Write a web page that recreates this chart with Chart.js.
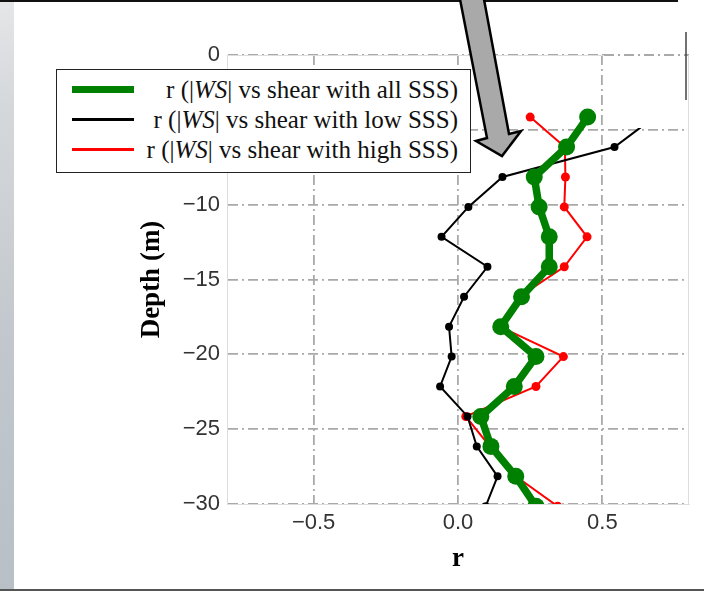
<!DOCTYPE html>
<html>
<head>
<meta charset="utf-8">
<title>r vs depth</title>
<script src="https://cdn.jsdelivr.net/npm/chart.js@4.4.1/dist/chart.umd.min.js"></script>
<style>
  html, body { margin: 0; padding: 0; background: #fff; }
  #wrap { position: relative; width: 704px; height: 591px; overflow: hidden; background: #fff; }
  #strip { position: absolute; left: 0; top: 0; width: 14px; height: 591px;
    background: linear-gradient(to bottom, #e4e6e8 0%, #d5d8db 18%, #cbcfd3 40%, #c1c7cd 58%, #b8bfc7 100%); }
  #topline { position: absolute; left: 0; top: 0; width: 678px; height: 2px; background: #111; }
  #bottomline { position: absolute; left: 0; top: 589px; width: 704px; height: 2px; background: #555; }
  #chart { position: absolute; left: 0; top: 0; }
  #legend { position: absolute; left: 56px; top: 69px; width: 415px; height: 104px; box-sizing: border-box;
    border: 1.5px solid #222; background: #fff; font-family: "Liberation Serif", serif; font-size: 25px; color: #111; }
  .row { position: absolute; left: 0; width: 100%; height: 30px; }
  .swatch { position: absolute; left: 15px; width: 62px; }
  .label { position: absolute; right: 12px; top: 0; line-height: 30px; white-space: nowrap; }
  #arrow { position: absolute; left: 0; top: 0; }
</style>
</head>
<body>
<div id="wrap">
  <div id="strip"></div>
  <div id="topline"></div>
  <div id="bottomline"></div>
  <canvas id="chart" width="704" height="591"></canvas>
  <div id="legend"></div>
  <svg id="arrow" width="704" height="591">
    <polygon points="459,-6 483,-6 509,134 521,131 502,156 476,141 487,138" fill="#a9a9a9" stroke="#000" stroke-width="2.5" stroke-linejoin="miter"/>
  </svg>
</div>
<script>
// 深度 (m) 和相关系数
const depth = [-4.15, -6.15, -8.15, -10.15, -12.15, -14.15, -16.15, -18.15, -20.15, -22.15, -24.15, -26.15, -28.15, -30.15];
const rAll  = [0.449, 0.376, 0.264, 0.281, 0.316, 0.316, 0.220, 0.148, 0.270, 0.195, 0.079, 0.114, 0.200, 0.270];
const rLow  = [0.680, 0.542, 0.154, 0.036, -0.057, 0.102, 0.021, -0.031, -0.022, -0.062, 0.033, 0.065, 0.137, 0.096];
const rHigh = [0.250, 0.370, 0.372, 0.368, 0.447, 0.368, 0.213, 0.145, 0.365, 0.270, 0.027, 0.110, 0.200, 0.345];
const seriesTags = ['all SSS', 'low SSS', 'high SSS'];
const xTicks = [-0.5, 0, 0.5];
const yTicks = [0, -5, -10, -15, -20, -25, -30];

const colors = ['#008000', '#000000', '#ff0000'];
const gridDash = [10, 4, 2, 4];
const tickFont = { family: 'Liberation Sans', size: 22 };
const titleFont = { family: 'Liberation Serif', size: 27, weight: 'bold' };

const minus = s => String(s).replace('-', '\u2212');
const toPoints = rs => rs.map((r, i) => ({ x: r, y: depth[i] }));

// 图例 (HTML)
const legend = document.getElementById('legend');
const swatchH = [7, 3, 3];
seriesTags.forEach((tag, i) => {
  const row = document.createElement('div');
  row.className = 'row';
  row.style.top = (4.5 + i * 30) + 'px';
  const sw = document.createElement('div');
  sw.className = 'swatch';
  sw.style.height = swatchH[i] + 'px';
  sw.style.top = (15 - swatchH[i] / 2) + 'px';
  sw.style.background = colors[i];
  const lab = document.createElement('div');
  lab.className = 'label';
  lab.innerHTML = 'r (|<i>WS</i>| vs shear with ' + tag + ')';
  row.appendChild(sw);
  row.appendChild(lab);
  legend.appendChild(row);
});

// 边框和右上角白块
const overlay = {
  id: 'overlay',
  beforeDatasetsDraw(chart) {
    const { ctx, chartArea: a } = chart;
    ctx.save();
    ctx.strokeStyle = '#dddddd';
    ctx.lineWidth = 1;
    ctx.beginPath();
    ctx.moveTo(a.left, a.top + 0.5);
    ctx.lineTo(a.right - 0.5, a.top + 0.5);
    ctx.lineTo(a.right - 0.5, a.bottom);
    ctx.stroke();
    ctx.restore();
  },
  afterDatasetsDraw(chart) {
    const { ctx, chartArea: a, scales } = chart;
    ctx.save();
    ctx.fillStyle = '#fff';
    ctx.fillRect(604, 30, 100, 98);
    const y0 = scales.y.getPixelForValue(0);
    ctx.strokeStyle = '#a9a9a9';
    ctx.lineWidth = 1.8;
    ctx.setLineDash(gridDash);
    ctx.beginPath();
    ctx.moveTo(604, y0);
    ctx.lineTo(a.right, y0);
    ctx.stroke();
    ctx.setLineDash([]);
    ctx.strokeStyle = '#dddddd';
    ctx.lineWidth = 1;
    ctx.beginPath();
    ctx.moveTo(a.right - 0.5, a.top);
    ctx.lineTo(a.right - 0.5, 128);
    ctx.stroke();
    ctx.strokeStyle = '#444';
    ctx.lineWidth = 1.5;
    ctx.beginPath();
    ctx.moveTo(686, 32);
    ctx.lineTo(686, 100);
    ctx.stroke();
    ctx.restore();
  }
};

const ctx = document.getElementById('chart').getContext('2d');
new Chart(ctx, {
  type: 'scatter',
  data: {
    datasets: [
      { label: 'r (|WS| vs shear with all SSS)', data: toPoints(rAll), borderColor: colors[0], backgroundColor: colors[0],
        borderWidth: 7.5, pointRadius: 8.5, pointBorderWidth: 0, showLine: true, clip: 0, borderJoinStyle: 'round' },
      { label: 'r (|WS| vs shear with low SSS)', data: toPoints(rLow), borderColor: colors[1], backgroundColor: colors[1],
        borderWidth: 2, pointRadius: 4, pointBorderWidth: 0, showLine: true, clip: 0 },
      { label: 'r (|WS| vs shear with high SSS)', data: toPoints(rHigh), borderColor: colors[2], backgroundColor: colors[2],
        borderWidth: 2, pointRadius: 4.5, pointBorderWidth: 0, showLine: true, clip: 0 }
    ]
  },
  options: {
    responsive: false,
    animation: false,
    layout: { padding: { left: 0, right: 15, top: 55, bottom: 0 } },
    plugins: { legend: { display: false }, tooltip: { enabled: false } },
    scales: {
      x: {
        type: 'linear', min: -0.8, max: 0.8,
        afterBuildTicks: s => { s.ticks = xTicks.map(v => ({ value: v })); },
        afterFit: s => { s.height = 87; },
        ticks: { font: tickFont, color: '#333', padding: 6, callback: v => minus(Number(v).toFixed(1)) },
        grid: { color: '#a9a9a9', lineWidth: 1.8, drawTicks: false },
        border: { color: '#dddddd', width: 1, dash: gridDash },
        title: { display: true, text: 'r', font: titleFont, color: '#000', padding: { top: 0, bottom: 16 } }
      },
      y: {
        type: 'linear', min: -30, max: 0,
        afterBuildTicks: s => { s.ticks = yTicks.map(v => ({ value: v })); },
        afterFit: s => { s.width = 227; },
        ticks: { font: tickFont, color: '#333', padding: 7, callback: v => minus(v) },
        grid: { color: '#a9a9a9', lineWidth: 1.8, drawTicks: false },
        border: { color: '#dddddd', width: 1, dash: gridDash },
        title: { display: true, text: 'Depth (m)', font: titleFont, color: '#000', padding: { top: 136, bottom: 0 } }
      }
    }
  },
  plugins: [overlay]
});
</script>
</body>
</html>
